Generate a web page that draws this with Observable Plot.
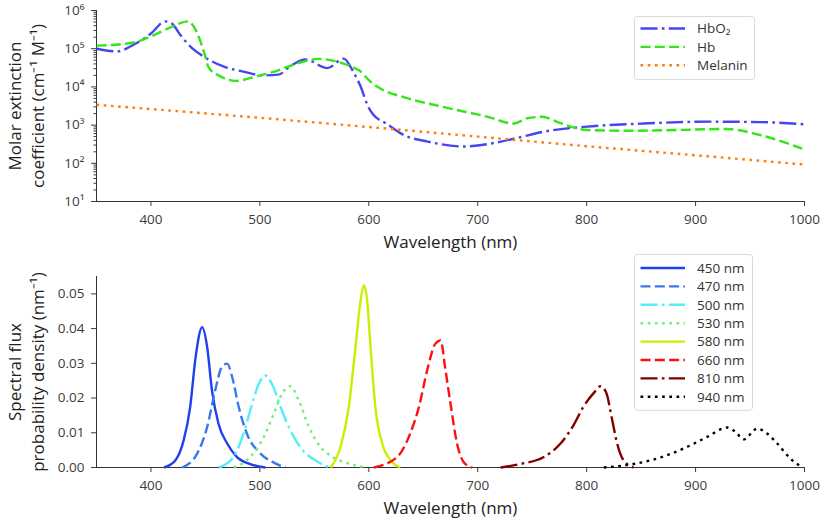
<!DOCTYPE html>
<html>
<head>
<meta charset="utf-8">
<script src="https://cdn.jsdelivr.net/npm/d3@7"></script>
<script src="https://cdn.jsdelivr.net/npm/@observablehq/plot@0.6"></script>
<style>
  body { margin: 0; background: #fff; }
  #chart { position: relative; width: 825px; height: 520px; font-family: "Open Sans", sans-serif; }
  #chart svg { display: block; }
  #chart .legend { position: absolute; }
</style>
</head>
<body>
<div id="chart"><div id="top"></div><div id="bottom"></div></div>
<script>
// extinction coefficients (cm^-1 M^-1)
const hbo2Nm  = [350, 369, 384, 400, 413, 419, 427, 436, 448, 467, 485, 503, 517, 528, 542, 562, 577, 586, 592, 600, 604, 616, 632, 654, 687, 715, 736, 764, 800, 852, 913, 959, 1000];
const hbo2Val = [1.0e5, 8.5e4, 1.27e5, 2.5e5, 5.2e5, 4.6e5, 2.3e5, 1.15e5, 6.3e4, 3.4e4, 2.5e4, 2.0e4, 2.1e4, 3.5e4, 5.2e4, 3.1e4, 5.5e4, 2.4e4, 1.1e4, 2.8e3, 1.9e3, 1.1e3, 550, 370, 275, 340, 460, 700, 910, 1100, 1230, 1200, 1050];

const hbNm  = [350, 384, 400, 418, 434, 441, 449, 453, 463, 478, 497, 515, 534, 555, 574, 586, 592, 600, 611, 632, 668, 709, 733, 745, 759, 776, 800, 837, 883, 929, 959, 1000];
const hbVal = [1.2e5, 1.45e5, 2.1e5, 3.6e5, 5.2e5, 3.1e5, 7.7e4, 3.2e4, 1.94e4, 1.44e4, 1.9e4, 2.6e4, 4.1e4, 5.4e4, 4.3e4, 3.2e4, 2.6e4, 1.5e4, 8.9e3, 5.4e3, 3.0e3, 1.65e3, 1.1e3, 1.5e3, 1.65e3, 1.12e3, 745, 710, 745, 790, 550, 230];

const melNm  = [350, 400, 500, 600, 700, 800, 900, 1000];
const melVal = [3400, 2630, 1550, 890, 500, 280, 162, 93];

// LED spectral flux densities (nm^-1)
const led450Nm  = [412, 422.5, 430, 436, 441, 447, 451.6, 456, 462, 470, 479, 491, 505];
const led450Val = [0, 0.0021, 0.0078, 0.0174, 0.0318, 0.0404, 0.0347, 0.0222, 0.0126, 0.0069, 0.0030, 0.0010, 0];
const led470Nm  = [428.7, 442.4, 451.6, 459, 465, 470, 474.6, 480.6, 488, 500.6, 512.8, 523.5];
const led470Val = [0, 0.004, 0.0117, 0.0222, 0.0289, 0.0299, 0.026, 0.0174, 0.0098, 0.004, 0.0014, 0];
const led500Nm  = [462.3, 476, 485, 493, 499, 505, 511, 519, 526.5, 537, 552.6, 565];
const led500Val = [0, 0.0031, 0.0098, 0.0184, 0.0241, 0.0265, 0.0241, 0.0174, 0.0117, 0.0059, 0.0017, 0];
const led530Nm  = [476, 491, 503.6, 512.8, 520.5, 528, 535.7, 545, 555.6, 566, 583, 598.5];
const led530Val = [0, 0.003, 0.0088, 0.0155, 0.0213, 0.0234, 0.0193, 0.0117, 0.0059, 0.0032, 0.001, 0];
const led580Nm  = [565, 574, 581.6, 587.8, 592.4, 595.4, 598.5, 601.6, 606, 612.3, 620, 629];
const led580Val = [0, 0.0059, 0.0174, 0.0347, 0.048, 0.0524, 0.048, 0.0347, 0.0174, 0.0069, 0.0021, 0];
const led660Nm  = [604.6, 626, 638, 646, 653.6, 661, 666, 670, 675, 681, 687, 695];
const led660Val = [0, 0.003, 0.0098, 0.0174, 0.028, 0.0356, 0.0366, 0.0289, 0.0184, 0.0069, 0.0016, 0];
const led810Nm  = [721, 739, 760.7, 776, 788, 797, 806.6, 812.7, 818, 823.5, 828, 834, 843];
const led810Val = [0, 0.001, 0.003, 0.0069, 0.0122, 0.0175, 0.0215, 0.0234, 0.0215, 0.0136, 0.0069, 0.002, 0];
const led940Nm  = [815.8, 843, 868, 892, 910.6, 929, 936.6, 944, 956.6, 965.6, 975, 987, 998];
const led940Val = [0, 0.001, 0.0029, 0.0059, 0.0088, 0.0115, 0.0103, 0.0081, 0.0112, 0.0098, 0.0069, 0.0026, 0];

// ticks
const xTicks = [400, 500, 600, 700, 800, 900, 1000];
const decades = [1e1, 1e2, 1e3, 1e4, 1e5, 1e6];
const fluxTicks = [0, 0.01, 0.02, 0.03, 0.04, 0.05];

// dash styles (matplotlib-like)
const SOLID = null, DASHED = "10,4.3", DASHDOT = "17,4.3,2.7,4.3", DOTTED = "2.7,4.5";

const absorbers = [
  {label: "HbO₂", nm: hbo2Nm, val: hbo2Val, color: "#4646f0", dash: DASHDOT},
  {label: "Hb", nm: hbNm, val: hbVal, color: "#33e618", dash: DASHED},
  {label: "Melanin", nm: melNm, val: melVal, color: "#ff7f0e", dash: DOTTED}
];
const leds = [
  {label: "450 nm", nm: led450Nm, val: led450Val, color: "#2040ee", dash: SOLID},
  {label: "470 nm", nm: led470Nm, val: led470Val, color: "#3a78ee", dash: DASHED},
  {label: "500 nm", nm: led500Nm, val: led500Val, color: "#55eef8", dash: DASHDOT},
  {label: "530 nm", nm: led530Nm, val: led530Val, color: "#70f070", dash: DOTTED},
  {label: "580 nm", nm: led580Nm, val: led580Val, color: "#c8f000", dash: SOLID},
  {label: "660 nm", nm: led660Nm, val: led660Val, color: "#ff1010", dash: DASHED},
  {label: "810 nm", nm: led810Nm, val: led810Val, color: "#800000", dash: DASHDOT},
  {label: "940 nm", nm: led940Nm, val: led940Val, color: "#000000", dash: DOTTED}
];

const rows = s => s.nm.map((n, i) => ({nm: n, v: s.val[i]}));
const supDigits = "⁰¹²³⁴⁵⁶⁷⁸⁹";
const sup = d => "10" + String(Math.round(Math.log10(d))).split("").map(c => supDigits[c]).join("");
const minorTicks = decades.slice(0, -1).flatMap(d => [2, 3, 4, 5, 6, 7, 8, 9].map(m => m * d));

const style = {fontFamily: '"Open Sans", sans-serif', fontSize: "13.5px", color: "#3c3c3c", background: "white"};
const labelStyle = {fontSize: 17, fill: "#222"};

function lines(series) {
  return series.map(s => Plot.line(rows(s), {
    x: "nm", y: "v", stroke: s.color, strokeWidth: 2.4,
    strokeDasharray: s.dash, strokeLinecap: "butt", curve: "monotone-x"
  }));
}

function labels(yLabel) {
  return [
    Plot.text([yLabel], {text: d => d, frameAnchor: "left", textAnchor: "middle", rotate: -90, dx: -92.6, lineAnchor: "top", lineHeight: 1.38, ...labelStyle}),
    Plot.text(["Wavelength (nm)"], {text: d => d, frameAnchor: "bottom", textAnchor: "middle", dy: 34, lineAnchor: "top", ...labelStyle})
  ];
}

let topChart = Plot.plot({
  width: 825, height: 255,
  marginLeft: 96, marginRight: 21, marginTop: 10, marginBottom: 54,
  style,
  x: {domain: [350, 1000]},
  y: {type: "log", domain: [10, 1e6]},
  marks: [
    Plot.axisX({ticks: xTicks, tickSize: 5, tickPadding: 8, tickFormat: d3.format("d"), label: null}),
    Plot.axisY({ticks: minorTicks, tickSize: 2.5, tickFormat: () => "", label: null}),
    Plot.axisY({ticks: decades, tickSize: 5, tickPadding: 7, tickFormat: sup, label: null}),
    Plot.ruleX([350], {stroke: "#333"}),
    Plot.ruleY([10], {stroke: "#333"}),
    ...lines(absorbers),
    ...labels("Molar extinction\ncoefficient (cm⁻¹ M⁻¹)")
  ]
});

let bottomChart = Plot.plot({
  width: 825, height: 265,
  marginLeft: 96, marginRight: 21, marginTop: 21, marginBottom: 53,
  style,
  x: {domain: [350, 1000]},
  y: {domain: [0, 0.055]},
  marks: [
    Plot.axisX({ticks: xTicks, tickSize: 5, tickPadding: 8, tickFormat: d3.format("d"), label: null}),
    Plot.axisY({ticks: fluxTicks, tickSize: 5, tickPadding: 7, tickFormat: d3.format(".2f"), label: null}),
    Plot.ruleX([350], {stroke: "#333"}),
    Plot.ruleY([0], {stroke: "#333"}),
    ...lines(leds),
    ...labels("Spectral flux\nprobability density (nm⁻¹)")
  ]
});

d3.select("#top").append(() => topChart);
d3.select("#bottom").append(() => bottomChart);

// legend boxes, matplotlib style
function legend(entries, left, top, width, padTop, padBottom) {
  const rowH = 18.4;
  const h = padTop + rowH * (entries.length - 1) + padBottom;
  const svg = d3.select("#chart").append("svg").attr("class", "legend")
    .style("left", left + "px").style("top", top + "px")
    .attr("width", width).attr("height", h);
  svg.append("rect").attr("x", 0.5).attr("y", 0.5).attr("width", width - 1).attr("height", h - 1)
    .attr("rx", 3).attr("fill", "white").attr("fill-opacity", 0.85).attr("stroke", "#d9d9d9");
  const g = svg.selectAll("g").data(entries).join("g")
    .attr("transform", (d, i) => `translate(0,${padTop + i * rowH})`);
  g.append("line").attr("x1", 6.5).attr("x2", 51).attr("stroke", d => d.color)
    .attr("stroke-width", 2.4).attr("stroke-dasharray", d => d.dash);
  g.append("text").attr("x", 63).attr("dy", "0.35em")
    .style("font-family", '"Open Sans", sans-serif').style("font-size", "13.5px")
    .attr("fill", "#333").text(d => d.label);
}

legend(absorbers, 634, 16, 121, 12.5, 14.8);
legend(leds, 634, 254, 119, 14, 14);
</script>
</body>
</html>
